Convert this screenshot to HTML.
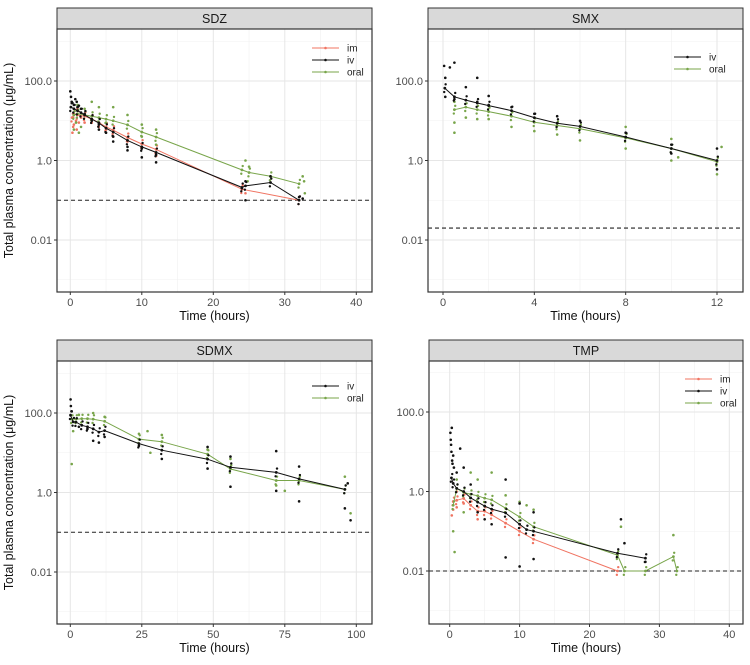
<!DOCTYPE html>
<html><head><meta charset="utf-8">
<style>
body{margin:0;background:#fff;}
svg{display:block;font-family:"Liberation Sans",Arial,sans-serif;}
</style></head>
<body>
<svg id="chart" width="750" height="665" viewBox="0 0 750 665"></svg>
<script>
// ---------- data ----------
const panelTitles = ["SDZ","SMX","SDMX","TMP"];
const xTicksSDZ = [0,10,20,30,40];
const xTicksSMX = [0,4,8,12];
const xTicksSDMX = [0,25,50,75,100];
const xTicksTMP = [0,10,20,30,40];
const yTickLabels = ["100.0","1.0","0.01"];
const yTickValues = [100,1,0.01];
const lloq = [0.1,0.02,0.1,0.01];

// SDZ
const sdzIvT = [0.08,0.5,1,1.5,2,3,4,5,6,8,10,12,24,24.5,28,32];
const sdzIvV = [22,20,18,16,14,11,8.8,6.5,5.2,3.2,2.2,1.6,0.21,0.23,0.28,0.1];
const sdzImT = [0.25,0.5,1,2,3,4,5,6,8,10,12,24,32];
const sdzImV = [12,15,14,13,11,9,7,5.8,3.8,2.6,1.9,0.19,0.1];
const sdzOralT = [0.5,1,2,3,4,5,6,8,10,12,24,25,28,32];
const sdzOralV = [14,15,14,13,12,11,10,7.9,5.2,3.9,0.58,0.5,0.4,0.26];
const sdzIvObs = [[0,55],[0.1,40],[0.2,30],[0.3,28],[0.5,25],[0.7,35],[0.9,30],[1.2,24],[1,22],[1.5,20],[2,15],[3,10],[4,6],[4,8],[5,5],[6,3],[6,4],[8,1.8],[8,2.2],[10,1.2],[10,2],[12,0.9],[12,1.4],[24,0.2],[24.5,0.1],[24.5,0.3],[28,0.4],[32,0.12],[32.5,0.11]];
const sdzImObs = [[0.3,5],[0.4,7],[0.5,8],[0.8,10],[0.9,6],[1,20],[1.2,9],[1.5,12],[2,9],[3,9],[4,7],[5,6],[6,4],[8,3],[10,2],[12,1.3],[24.5,0.15]];
const sdzOralObs = [[0.5,6],[0.8,9],[1,25],[1.5,7],[1.2,5],[2,20],[3,30],[4,22],[5,9],[6,22],[8,14],[10,8],[10,4],[12,6],[12,2.5],[24.5,1],[25,0.7],[24.8,0.3],[32.5,0.4],[32.7,0.3],[32.8,0.15]];

// SMX
const smxIvT = [0.08,0.5,1,1.5,2,3,4,5,6,8,10,12];
const smxIvV = [66,40,33,28,24,18,12,8.7,7.2,3.9,2,1.0];
const smxOralT = [0.5,1,1.5,2,3,4,5,6,8,10,12];
const smxOralV = [19,22,19,17,13,9.2,7.6,6.3,3.7,2,0.93];
const smxIvObs = [[0.05,240],[0.1,120],[0.3,220],[0.5,290],[0.1,40],[0.5,35],[1,70],[1.5,120],[1.5,30],[2,42],[2,25],[3,22],[4,15],[5,13],[6,10],[8,5],[10,2.5],[10,1.5],[12,2],[12,0.6]];
const smxOralObs = [[0.5,5],[0.5,9],[0.5,30],[1,12],[1.5,11],[2,11],[3,7],[4,5.5],[5,4.5],[6,3.2],[8,7],[8,2],[10,1],[10,3.5],[10.3,1.2],[12,0.45],[12.2,2.2]];

// SDMX
const sdmxIvT = [0.08,1,2,4,6,8,10,12,24,32,48,56,72,80,96];
const sdmxIvV = [88,60,59,49,45,40,33,36,17,11.6,6.9,4.3,3.2,2.2,1.2];
const sdmxOralT = [0.5,2,4,6,8,12,24,32,48,56,72,80,96];
const sdmxOralV = [70,70,72,72,70,62,22,19,9.2,3.9,2,2,1.2];
const sdmxIvObs = [[0.1,220],[0.2,150],[0.5,110],[3,45],[6,40],[8,20],[10,18],[12,25],[24,15],[32,7],[48,14],[48,4],[56,8],[56,1.4],[72,11],[72,1.1],[80,4.5],[80,0.6],[96,0.4],[98,0.2],[97,1.7]];
const sdmxOralObs = [[0.5,5.2],[1,35],[3,90],[8,100],[12,80],[24,30],[27,35],[28,10],[32,28],[48,12],[56,7],[72,1.5],[75,1.1],[96,2.5],[98,0.3]];

// TMP
const tmpIvT = [0.25,0.5,1,2,3,4,5,6,8,10,11,12,24,28];
const tmpIvV = [2.2,1.6,1.2,1.0,0.69,0.54,0.43,0.36,0.29,0.15,0.11,0.1,0.028,0.021];
const tmpImT = [0.5,1,2,3,4,5,6,8,10,12,24];
const tmpImV = [0.56,0.6,0.67,0.45,0.32,0.32,0.26,0.16,0.1,0.063,0.01];
const tmpOralT = [0.5,1,2,3,4,5,6,8,10,12,24,25,28,32,32.5];
const tmpOralV = [0.45,1.2,0.95,0.85,0.78,0.68,0.62,0.38,0.23,0.13,0.025,0.01,0.01,0.023,0.01];
const tmpIvObs = [[0.1,30],[0.15,20],[0.2,15],[0.3,40],[0.25,10],[0.35,6],[0.4,5],[0.5,8],[0.6,4],[1,3],[1.5,12],[2,4],[3,1.5],[4,0.3],[5,0.2],[6,0.15],[8,2],[8,0.022],[10,0.5],[10,0.013],[12,0.02],[12,0.3],[24.5,0.2],[25,0.05],[28,0.017]];
const tmpImObs = [[0.3,0.25],[0.5,0.35],[1,0.4],[1,1.0],[2,0.5],[4,0.2]];
const tmpOralObs = [[0.5,0.1],[0.7,0.03],[1,2],[2,0.3],[3,3],[4,2],[6,3],[8,0.8],[10,0.55],[11,0.45],[12,0.35],[24.5,0.13],[32,0.08]];

// ---------- drawing ----------
const NS="http://www.w3.org/2000/svg";
const svg=document.getElementById('chart');
function mk(tag,attrs,parent){const e=document.createElementNS(NS,tag);for(const k in attrs)e.setAttribute(k,attrs[k]);(parent||svg).appendChild(e);return e;}
const COL={im:"#f07462",iv:"#111111",oral:"#78a54a"};

function panel(p){
  const g=mk('g',{});
  
  
  const x=v=>p.x0px+(v-0)*(p.x1px-p.x0px)/(p.xmaxTick);
  const y=v=>p.y100-(Math.log10(v)-2)*39.75;
  const L=p.left,R=p.right,T=p.top+21,B=p.bottom;
  const strip=mk('rect',{x:L,y:p.top,width:R-L,height:21,fill:'#d9d9d9',stroke:'#333','stroke-width':1},g);
  
  
  const st=mk('text',{x:(L+R)/2,y:p.top+15,'text-anchor':'middle','font-size':12.5,fill:'#1a1a1a'},g);st.textContent=p.title;
  
  
  mk('rect',{x:L,y:T,width:R-L,height:B-T,fill:'#fff'},g);
  const gg=mk('g',{},g);
  for(const d of [3,1,-1,-3]){const yy=y(Math.pow(10,d));if(yy>T&&yy<B)mk('line',{x1:L,x2:R,y1:yy,y2:yy,stroke:'#f0f0f0','stroke-width':0.6},gg);}
  for(let i=0;i<p.ticks.length-1;i++){const xm=x((p.ticks[i]+p.ticks[i+1])/2);mk('line',{x1:xm,x2:xm,y1:T,y2:B,stroke:'#f0f0f0','stroke-width':0.6},gg);}
  yTickValues.forEach(v=>mk('line',{x1:L,x2:R,y1:y(v),y2:y(v),stroke:'#e6e6e6','stroke-width':1},gg));
  p.ticks.forEach(v=>mk('line',{x1:x(v),x2:x(v),y1:T,y2:B,stroke:'#e6e6e6','stroke-width':1},gg));
  const ll=mk('line',{x1:L,x2:R,y1:y(p.lloq),y2:y(p.lloq),stroke:'#222','stroke-width':1.1,'stroke-dasharray':'4,3'},g);
  
  
  p.series.forEach(s=>{
    const sg=mk('g',{},g);
    
    
    s.obs.forEach(o=>{mk('circle',{cx:x(o[0]),cy:y(o[1]),r:1.3,fill:COL[s.name]},sg);});
    s.t.forEach((t,i)=>{mk('circle',{cx:x(t),cy:y(s.v[i]),r:1.4,fill:COL[s.name]},sg);
      mk('circle',{cx:x(t)+0.8,cy:y(s.v[i]*1.25),r:1.2,fill:COL[s.name]},sg);
      mk('circle',{cx:x(t)-0.6,cy:y(s.v[i]*0.8),r:1.2,fill:COL[s.name]},sg);});
    const pts=s.t.map((t,i)=>x(t).toFixed(1)+','+y(s.v[i]).toFixed(1)).join(' ');
    const pl=mk('polyline',{points:pts,fill:'none',stroke:COL[s.name],'stroke-width':1},sg);
    
    
  });
  mk('rect',{x:L,y:T,width:R-L,height:B-T,fill:'none',stroke:'#333','stroke-width':1.2},g);
  const lg=mk('g',{},g);
  
  
  p.series.slice().sort((a,b)=>a.name<b.name?-1:1).forEach((s,i)=>{
    const ly=p.legY+i*12;
    mk('line',{x1:p.legX,x2:p.legX+27,y1:ly,y2:ly,stroke:COL[s.name],'stroke-width':1},lg);
    mk('circle',{cx:p.legX+13.5,cy:ly,r:1.3,fill:COL[s.name]},lg);
    const t=mk('text',{x:p.legX+35,y:ly+3.5,'font-size':10,fill:'#222'},lg);t.textContent=s.name;
    
    
  });
  p.ticks.forEach(v=>{mk('line',{x1:x(v),x2:x(v),y1:B,y2:B+3,stroke:'#333'},g);
    const t=mk('text',{x:x(v),y:B+14,'text-anchor':'middle','font-size':11,fill:'#4d4d4d'},g);t.textContent=v;
    
    });
  yTickValues.forEach((v,i)=>{mk('line',{x1:L-3,x2:L,y1:y(v),y2:y(v),stroke:'#333'},g);
    const t=mk('text',{x:L-5,y:y(v)+4,'text-anchor':'end','font-size':11,fill:'#4d4d4d'},g);t.textContent=yTickLabels[i];
    
    });
  const xt=mk('text',{x:(L+R)/2,y:B+28,'text-anchor':'middle','font-size':12.5,fill:'#111'},g);xt.textContent='Time (hours)';
  
  
  if(p.ytitle){const yt=mk('text',{x:0,y:0,transform:`translate(13,${(T+B)/2}) rotate(-90)`,'text-anchor':'middle','font-size':12.5,fill:'#111'},g);
    yt.textContent='Total plasma concentration (μg/mL)';
    
    }
}
panel({title:panelTitles[0],left:57,right:372,top:8,bottom:292,x0px:70.3,x1px:356.3,xmaxTick:40,y100:81,ticks:xTicksSDZ,lloq:lloq[0],legX:312,legY:48,ytitle:true,
  series:[{name:'im',t:sdzImT,v:sdzImV,obs:sdzImObs},{name:'oral',t:sdzOralT,v:sdzOralV,obs:sdzOralObs},{name:'iv',t:sdzIvT,v:sdzIvV,obs:sdzIvObs}]});
panel({title:panelTitles[1],left:428,right:743,top:8,bottom:292,x0px:443,x1px:717,xmaxTick:12,y100:81,ticks:xTicksSMX,lloq:lloq[1],legX:674,legY:57,
  series:[{name:'oral',t:smxOralT,v:smxOralV,obs:smxOralObs},{name:'iv',t:smxIvT,v:smxIvV,obs:smxIvObs}]});
panel({title:panelTitles[2],left:57,right:372,top:340,bottom:624,x0px:70.3,x1px:356.3,xmaxTick:100,y100:413,ticks:xTicksSDMX,lloq:lloq[2],legX:312,legY:386,ytitle:true,
  series:[{name:'oral',t:sdmxOralT,v:sdmxOralV,obs:sdmxOralObs},{name:'iv',t:sdmxIvT,v:sdmxIvV,obs:sdmxIvObs}]});
panel({title:panelTitles[3],left:429,right:743,top:340,bottom:624,x0px:449.7,x1px:729.3,xmaxTick:40,y100:412,ticks:xTicksTMP,lloq:lloq[3],legX:685,legY:379,
  series:[{name:'im',t:tmpImT,v:tmpImV,obs:tmpImObs},{name:'oral',t:tmpOralT,v:tmpOralV,obs:tmpOralObs},{name:'iv',t:tmpIvT,v:tmpIvV,obs:tmpIvObs}]});
</script>
</body></html>
